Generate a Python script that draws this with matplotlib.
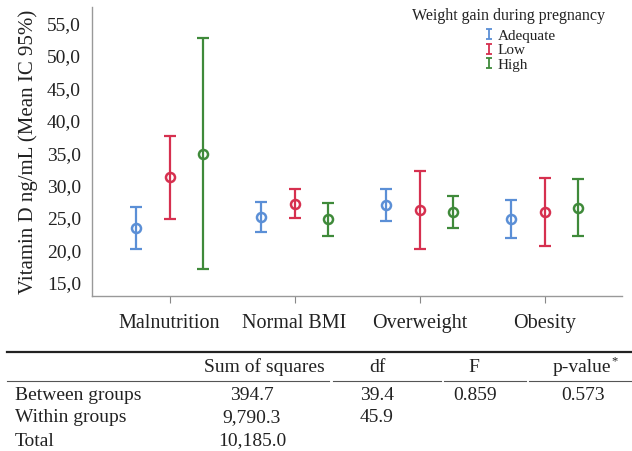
import matplotlib
matplotlib.use("Agg")
import matplotlib.pyplot as plt
from matplotlib.lines import Line2D
from matplotlib.path import Path
import numpy as np

categories = ["Malnutrition", "Normal BMI", "Overweight", "Obesity"]
groups = ["Adequate", "Low", "High"]
colors = ["#5b8fd6", "#d6304f", "#3f8a3a"]

# mean, lower and upper 95% CI per group, one value per BMI category
means = {
    "Adequate": [23.4, 25.2, 27.0, 24.8],
    "Low": [31.3, 27.2, 26.3, 26.0],
    "High": [34.9, 24.8, 25.9, 26.6],
}
lower = {
    "Adequate": [20.2, 22.9, 24.6, 21.9],
    "Low": [24.8, 25.0, 20.3, 20.7],
    "High": [17.1, 22.3, 23.4, 22.3],
}
upper = {
    "Adequate": [26.7, 27.4, 29.5, 27.8],
    "Low": [37.7, 29.4, 32.2, 31.2],
    "High": [52.7, 27.3, 28.4, 31.0],
}

y_ticks = [15, 20, 25, 30, 35, 40, 45, 50, 55]

table_header = ["Sum of squares", "df", "F", "p-value"]
table_rows = ["Between groups", "Within groups", "Total"]
table_cells = [
    ["394.7", "39.4", "0.859", "0.573"],
    ["9,790.3", "45.9", "", ""],
    ["10,185.0", "", "", ""],
]

plt.rcParams["font.family"] = ["Liberation Serif", "DejaVu Serif"]
W, H = 632, 451
TXT = "#222222"
fig = plt.figure(figsize=(W / 100, H / 100), dpi=100)
ax = fig.add_axes([92 / W, 1 - 296 / H, (622 - 92) / W, (296 - 7) / H])

x = np.arange(len(categories))
offsets = [-0.27, 0.0, 0.27]
for g, c, off in zip(groups, colors, offsets):
    m = np.array(means[g])
    lo = m - np.array(lower[g])
    hi = np.array(upper[g]) - m
    ax.errorbar(x + off, m, yerr=[lo, hi], fmt="none", ecolor=c,
                elinewidth=1.6, capsize=4, capthick=1.6)
    ax.plot(x + off, m, "o", mfc="none", mec=c, mew=1.8, ms=6.5, zorder=3)

# "I"-shaped legend glyph: a short error bar with caps
ibar = Path([(0, -1), (0, 1), (-0.55, 1), (0.55, 1), (-0.55, -1), (0.55, -1)],
            [Path.MOVETO, Path.LINETO, Path.MOVETO, Path.LINETO, Path.MOVETO, Path.LINETO])
handles = [Line2D([], [], marker=ibar, linestyle="none", color=c, mec=c,
                  markersize=7, mew=1.3, label=g) for g, c in zip(groups, colors)]

ax.set_xlim(-0.62, 3.62)
ax.set_ylim(13.0, 57.5)
ax.set_xticks(x)
ax.set_xticklabels(categories, fontsize=14.5, color=TXT)
ax.set_yticks(y_ticks)
ax.set_yticklabels([f"{v:.1f}".replace(".", ",") for v in y_ticks],
                   fontsize=14, color=TXT)
ax.tick_params(axis="y", length=0, pad=8)
ax.tick_params(axis="x", length=5, color="#888888", pad=8)
for s in ["top", "right"]:
    ax.spines[s].set_visible(False)
for s in ["left", "bottom"]:
    ax.spines[s].set_color("#999999")
    ax.spines[s].set_linewidth(1.0)
ax.set_ylabel("Vitamin D ng/mL (Mean IC 95%)", fontsize=15, color=TXT,
              labelpad=6)

fig.text(509 / W, 1 - 16 / H, "Weight gain during pregnancy", fontsize=11.5,
         ha="center", va="center", color=TXT)
leg = ax.legend(handles=handles, loc="upper left",
                bbox_to_anchor=(486 / W, 1 - 29 / H), bbox_transform=fig.transFigure,
                frameon=False, fontsize=11, handlelength=0.4, handletextpad=0.35,
                labelspacing=0.05, borderpad=0, borderaxespad=0)
for t in leg.get_texts():
    t.set_color(TXT)

def fy(py):
    return 1 - py / H

fig.add_artist(Line2D([7 / W, 1.0], [fy(352), fy(352)], color=TXT, lw=1.6))
for x0, x1 in [(7, 329), (333, 441), (444, 526), (529, 632)]:
    fig.add_artist(Line2D([x0 / W, x1 / W], [fy(381), fy(381)], color="#555555", lw=0.8))

header_x = [264, 377, 474, 582]
cell_x = [252, 377, 475, 583]
for hx, txt in zip(header_x, table_header):
    fig.text(hx / W, fy(367), txt, fontsize=14, ha="center", va="center", color=TXT)
fig.text(611 / W, fy(361), "*", fontsize=9, ha="left", va="center", color=TXT)
row_y = [395, 418, 441]
for ry, name, cells in zip(row_y, table_rows, table_cells):
    fig.text(15 / W, fy(ry), name, fontsize=14, ha="left", va="center", color=TXT)
    for cx, val in zip(cell_x, cells):
        if val:
            fig.text(cx / W, fy(ry), val, fontsize=14, ha="center", va="center",
                     color=TXT)

fig.savefig("out.png", dpi=100)
